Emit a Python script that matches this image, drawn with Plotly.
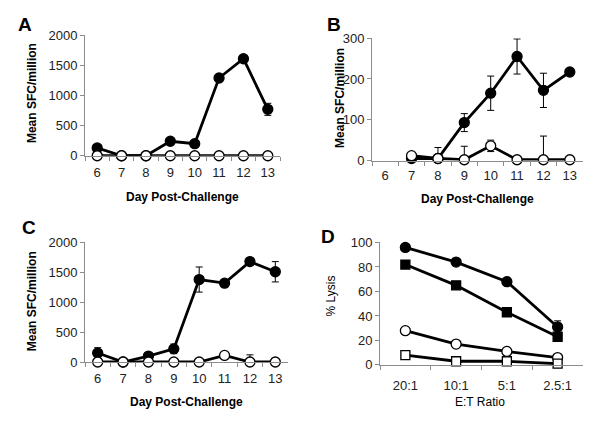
import plotly.graph_objects as go

# ---- data ----
days = ['6', '7', '8', '9', '10', '11', '12', '13']

a_filled = [130, 0, 0, 240, 200, 1290, 1610, 770]
a_filled_err = [0, 0, 0, 0, 0, 30, 40, 100]
a_open = [0, 0, 0, 0, 0, 0, 0, 0]

b_days = ['7', '8', '9', '10', '11', '12', '13']
b_filled = [5, 5, 93, 165, 255, 172, 217]
b_filled_err = [0, 0, 22, 42, 43, 42, 0]
b_open = [12, 5, 2, 36, 2, 2, 2]
b_open_err = [0, 27, 33, 14, 0, 58, 0]

c_filled = [150, 0, 100, 220, 1380, 1320, 1680, 1510]
c_filled_err = [90, 0, 0, 80, 210, 0, 30, 170]
c_open = [0, 0, 0, 0, 0, 110, 0, 0]
c_open_err = [0, 0, 0, 0, 0, 0, 120, 0]

ratios = ['20:1', '10:1', '5:1', '2.5:1']
d_filled_circle = [96, 84, 68, 31]
d_filled_circle_err = [0, 0, 0, 5]
d_filled_square = [82, 65, 43, 23]
d_open_circle = [28, 17, 11, 6]
d_open_square = [8, 3, 3, 1]

FONT = 'Arial, Liberation Sans, sans-serif'
AXIS_GREY = '#8c8c8c'

# the page body has an 8px margin, so the figure is laid out in page pixels minus 8
OFF = 8
W, H = 600 - OFF, 424 - OFF


def px(x, y):
    return (x - OFF) / W, 1 - (y - OFF) / H


def series(x, y, err, filled, symbol, xa, ya):
    return go.Scatter(
        x=x, y=y, mode='lines+markers', xaxis=xa, yaxis=ya, cliponaxis=False,
        line=dict(color='black', width=2.8),
        marker=dict(symbol=symbol, size=10 if symbol == 'circle' else 9,
                    color='black' if filled else 'white',
                    line=dict(color='black', width=1.3)),
        error_y=dict(type='data', array=err, visible=err is not None,
                     color='black', thickness=1, width=3.5),
        showlegend=False)


fig = go.Figure()
fig.add_trace(series(days, a_filled, a_filled_err, True, 'circle', 'x', 'y'))
fig.add_trace(series(days, a_open, None, False, 'circle', 'x', 'y'))
fig.add_trace(series(b_days, b_filled, b_filled_err, True, 'circle', 'x2', 'y2'))
fig.add_trace(series(b_days, b_open, b_open_err, False, 'circle', 'x2', 'y2'))
fig.add_trace(series(days, c_filled, c_filled_err, True, 'circle', 'x3', 'y3'))
fig.add_trace(series(days, c_open, c_open_err, False, 'circle', 'x3', 'y3'))
fig.add_trace(series(ratios, d_filled_circle, d_filled_circle_err, True, 'circle', 'x4', 'y4'))
fig.add_trace(series(ratios, d_filled_square, None, True, 'square', 'x4', 'y4'))
fig.add_trace(series(ratios, d_open_circle, None, False, 'circle', 'x4', 'y4'))
fig.add_trace(series(ratios, d_open_square, None, False, 'square', 'x4', 'y4'))

xcommon = dict(type='category', showline=True, linecolor=AXIS_GREY, linewidth=1,
               ticks='outside', tickson='boundaries', ticklen=4, tickcolor=AXIS_GREY,
               showgrid=False, zeroline=False, fixedrange=True,
               tickfont=dict(family=FONT, size=13, color='#222'))
ycommon = dict(showline=True, linecolor=AXIS_GREY, linewidth=1, ticks='outside',
               ticklen=4, tickcolor=AXIS_GREY, showgrid=False, zeroline=False,
               tickfont=dict(family=FONT, size=13, color='#222'))

panels = {
    # name: (x left/right px, y top px, y bottom px, y max, dtick, label standoff)
    '':  ((85, 280), 29, 154, 2000, 500, 5),
    '2': ((372, 583), 32, 159, 300, 100, 3),
    '3': ((85, 288), 244, 368, 2000, 500, 4),
    '4': ((380, 583), 244, 371, 100, 20, 8),
}
for k, (xd, top, bot, ymax, dt, so) in panels.items():
    x0, y0 = px(xd[0], bot)
    x1, y1 = px(xd[1], top)
    xa = dict(xcommon, domain=[x0, x1], anchor='y' + k, ticklabelstandoff=so)
    if k == '4':
        xa.update(categoryarray=ratios, categoryorder='array', range=[-0.5, 3.5])
    else:
        xa.update(categoryarray=days, categoryorder='array', range=[-0.5, 7.5])
    ya = dict(ycommon, domain=[y0, y1], anchor='x' + k, range=[0, ymax], dtick=dt)
    fig.layout['xaxis' + k] = xa
    fig.layout['yaxis' + k] = ya

annotations = []
for txt, x, y in [('A', 25, 18), ('B', 334, 18), ('C', 29, 228), ('D', 328, 238)]:
    ax, ay = px(x, y)
    annotations.append(dict(text='<b>%s</b>' % txt, x=ax, y=ay, xref='paper',
                            yref='paper', showarrow=False,
                            font=dict(family=FONT, size=19, color='black'),
                            xanchor='center', yanchor='middle'))
# x-axis titles
for txt, x, y, bold in [('Day Post-Challenge', 182, 197, True),
                        ('Day Post-Challenge', 477, 199, True),
                        ('Day Post-Challenge', 186, 409, True),
                        ('E:T Ratio', 480, 409, False)]:
    ax, ay = px(x, y)
    annotations.append(dict(text='<b>%s</b>' % txt if bold else txt, x=ax, y=ay,
                            xref='paper', yref='paper', showarrow=False,
                            font=dict(family=FONT, size=12, color='black'),
                            xanchor='center', yanchor='middle'))
# y-axis titles
for txt, x, y, bold in [('Mean SFC/million', 32, 89, True),
                        ('Mean SFC/million', 340, 94, True),
                        ('Mean SFC/million', 32, 305, True),
                        ('% Lysis', 331, 300, False)]:
    ax, ay = px(x, y)
    annotations.append(dict(text='<b>%s</b>' % txt if bold else txt, x=ax, y=ay,
                            xref='paper', yref='paper', showarrow=False, textangle=-90,
                            font=dict(family=FONT, size=12, color='black'),
                            xanchor='center', yanchor='middle'))

fig.update_layout(width=W, height=H, margin=dict(l=0, r=0, t=0, b=0),
                  paper_bgcolor='white', plot_bgcolor='white',
                  annotations=annotations)

fig.write_html("out.html")
